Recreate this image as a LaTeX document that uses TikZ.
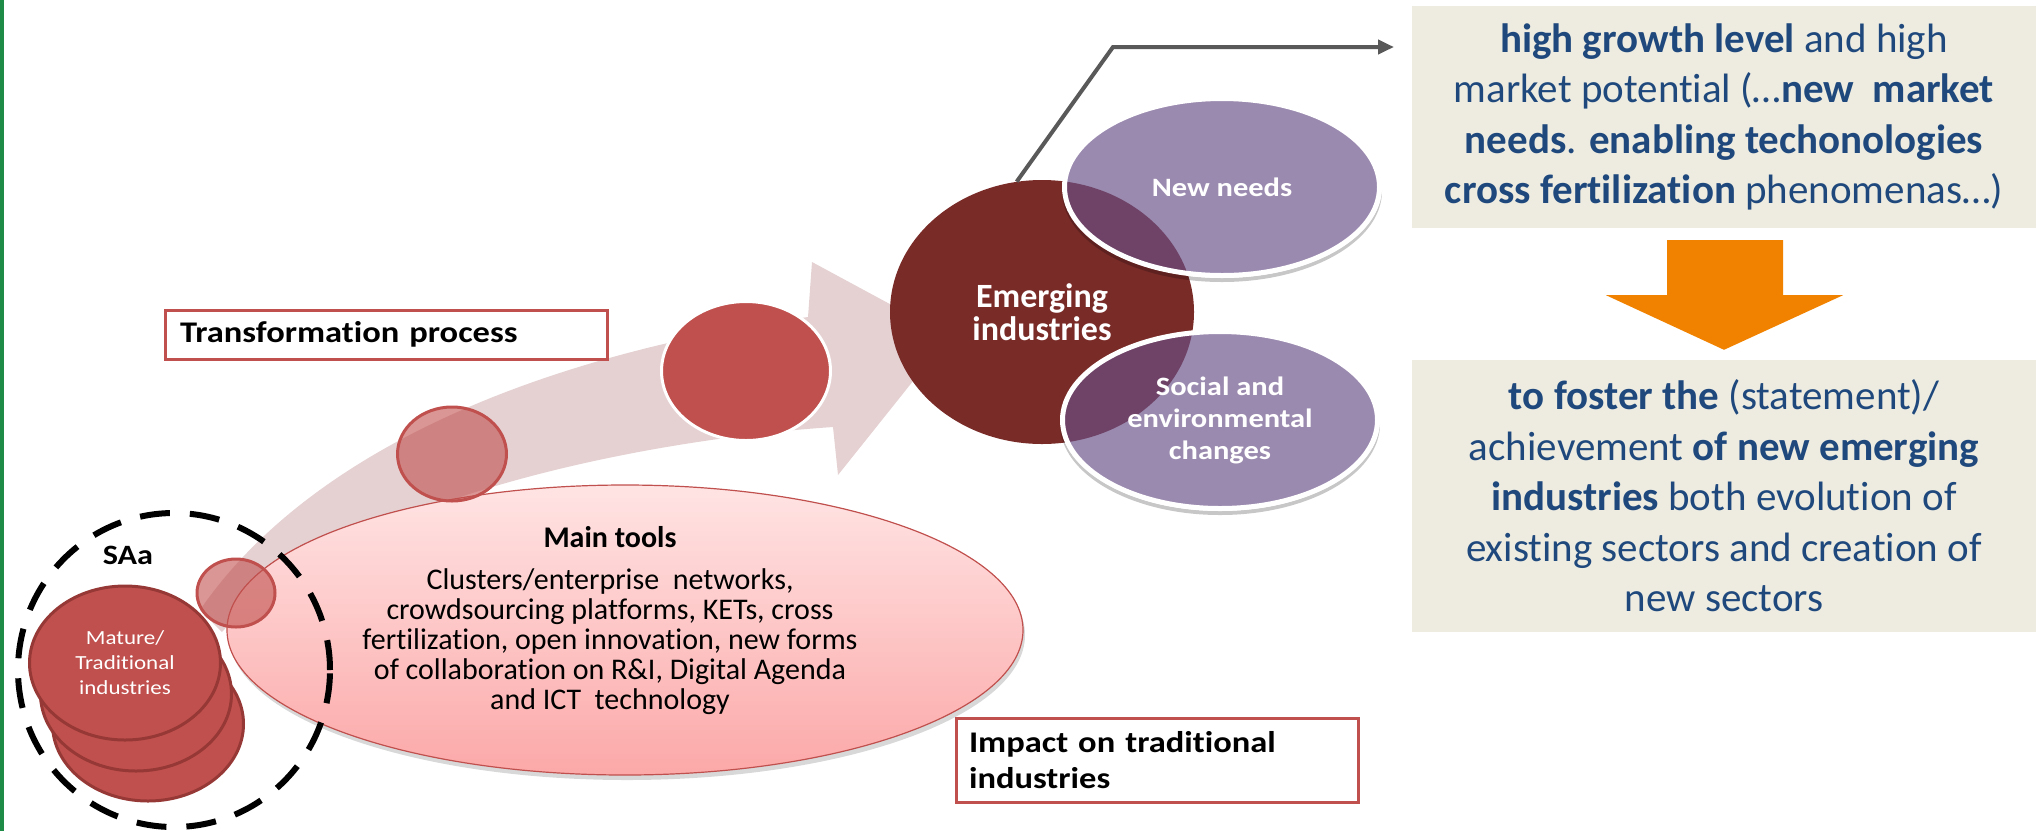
\documentclass[tikz,border=0pt]{standalone}
\usepackage{fontspec}
\setmainfont{Carlito}[Ligatures=NoCommon]
\newfontfamily\wf[FakeStretch=1.15,Ligatures=NoCommon]{Carlito}
\usetikzlibrary{shapes.geometric,arrows.meta,shadows,calc}
\lineskiplimit=-100pt
\definecolor{accred}{RGB}{192,80,77}
\definecolor{darkred}{RGB}{121,43,40}
\definecolor{purp}{RGB}{105,80,135}
\definecolor{arrowpink}{RGB}{229,209,210}
\definecolor{beige}{RGB}{238,236,225}
\definecolor{txtblue}{RGB}{31,73,125}
\definecolor{orng}{RGB}{240,130,0}
\definecolor{conngray}{RGB}{89,89,89}
\definecolor{stackborder}{RGB}{150,56,53}
\definecolor{greenbar}{RGB}{30,140,70}
\definecolor{pinktop}{RGB}{255,228,228}
\definecolor{pinkbot}{RGB}{252,168,168}
\tikzset{
  stackell/.style={ellipse, fill=accred, draw=stackborder, line width=3pt,
    minimum width=191pt, minimum height=154pt, inner sep=0pt},
  tcircle/.style={ellipse, fill=accred, fill opacity=0.6, draw=accred,
    line width=3pt, inner sep=0pt},
  purpell/.style={ellipse, fill=purp, fill opacity=0.67, text opacity=1,
    draw=white, line width=5pt, minimum width=315pt, minimum height=177pt,
    inner sep=0pt, text=white, align=center,
    font=\wf\fontsize{26.5}{32}\selectfont\bfseries},
  labelbox/.style={rectangle, draw=accred, line width=3pt, fill=white,
    anchor=north west, align=left, inner ysep=0pt,
    font=\wf\fontsize{30}{36}\selectfont\bfseries},
  infobox/.style={rectangle, fill=beige, minimum width=624pt, inner sep=0pt,
    text=txtblue, align=center, font=\fontsize{41}{50.5}\selectfont},
  connector/.style={draw=conngray, line width=4pt,
    -{Triangle[length=16pt,width=14pt]}},
  softshadow/.style={fill=black, opacity=0.22}
}
\begin{document}
\begin{tikzpicture}[x=1pt,y=-1pt]
\useasboundingbox (0,0) rectangle (2044,831);
\fill[greenbar] (0,0) rectangle (4,831);

% curved transformation arrow
\fill[arrowpink] (200,610) .. controls (310,450) and (540,355) .. (808,317)
  -- (812,262) -- (949,336) -- (838,475) -- (833,427)
  .. controls (640,440) and (340,500) .. (222,632) -- cycle;

% stage circle on the arrow
\node[ellipse, fill=accred, draw=white, line width=3pt, minimum width=169pt,
  minimum height=139pt, inner sep=0pt] (stage3) at (746,371) {};

% main tools ellipse
\node[ellipse, minimum width=796pt, minimum height=290pt, inner sep=0pt,
  draw=accred, line width=1.2pt, top color=pinktop, bottom color=pinkbot,
  drop shadow={shadow xshift=2pt, shadow yshift=-5pt, opacity=0.22, fill=black!70}]
  (tools) at (625,630) {};

% translucent stage circles
\node[tcircle, minimum width=109pt, minimum height=94pt] (stage2) at (452,454) {};
\node[tcircle, minimum width=78pt, minimum height=68pt] (stage1) at (236,593) {};

\node[font=\fontsize{30}{30}\selectfont, align=center] (toolstxt) at (610,621)
  {\textbf{Main tools}\\[12pt]
   Clusters/enterprise\ \ networks,\\
   crowdsourcing platforms, KETs, cross\\
   fertilization, open innovation, new forms\\
   of collaboration on R\&I, Digital Agenda\\
   and ICT\ \ technology};

% SAa dashed circle
\node[ellipse, draw=black, line width=6pt, dash pattern=on 30pt off 20pt,
  minimum width=312pt, minimum height=314pt, inner sep=0pt] (saa) at (174,670) {};
\node[font=\wf\fontsize{28}{30}\selectfont\bfseries] (saalbl) at (128,555) {SAa};

% stacked mature industries
\node[stackell] (mat3) at (148,724) {};
\node[stackell] (mat2) at (136,694) {};
\node[stackell, text=white, align=center,
  font=\wf\fontsize{20}{25}\selectfont] (mat1) at (125,663)
  {Mature/\\Traditional\\industries};

% label boxes
\node[labelbox, minimum width=442pt, minimum height=49pt, text width=412pt,
  inner xsep=15pt] (tp) at (163.5,308.5) {Transformation process};
\node[labelbox, minimum width=402pt, minimum height=84pt, text width=376pt,
  inner xsep=13pt] (impact) at (954.5,716.5) {Impact on traditional\\industries};

% emerging industries
\node[ellipse, fill=darkred, minimum width=304pt, minimum height=264pt,
  inner sep=0pt, text=white, align=center,
  font=\fontsize{34}{33}\selectfont\bfseries] (emerg) at (1042,312)
  {Emerging\\industries};

% soft shadows under the purple ellipses (outside them only)
\begin{scope}[even odd rule]
  \clip (900,0) rectangle (1450,600)
    (1222,187) ellipse [x radius=160, y radius=91]
    (1220,420) ellipse [x radius=160, y radius=91];
  \fill[softshadow] (1222,191) ellipse [x radius=160, y radius=91];
  \fill[softshadow] (1220,424) ellipse [x radius=160, y radius=91];
\end{scope}
\node[purpell] (needs) at (1222,187) {New needs};
\node[purpell] (social) at (1220,420) {Social and\\environmental\\changes};

% connector to the right boxes
\coordinate (bend) at (1113,47);
\coordinate (cend) at (1394,47);
\draw[connector] (emerg.101) -- (bend) -- (cend);

% right info boxes
\node[infobox, minimum height=222pt] (box1) at (1724,117)
  {\textbf{high growth level} and high\\
   market potential (…\textbf{new\ \ market}\\
   \textbf{needs}. \textbf{enabling techonologies}\\
   \textbf{cross fertilization} phenomenas…)};
\node[infobox, minimum height=272pt] (box2) at (1724,496)
  {\textbf{to foster the} (statement)/\\
   achievement \textbf{of new emerging}\\
   \textbf{industries} both evolution of\\
   existing sectors and creation of\\
   new sectors};

% orange block arrow between the boxes
\fill[orng] ($(box1.south)+(-57,12)$) -- ($(box1.south)+(59,12)$)
  -- ($(box1.south)+(59,67)$) -- ($(box1.south)+(119,67)$)
  -- ($(box2.north)+(0,-10)$) -- ($(box1.south)+(-118,67)$)
  -- ($(box1.south)+(-57,67)$) -- cycle;
\end{tikzpicture}
\end{document}
